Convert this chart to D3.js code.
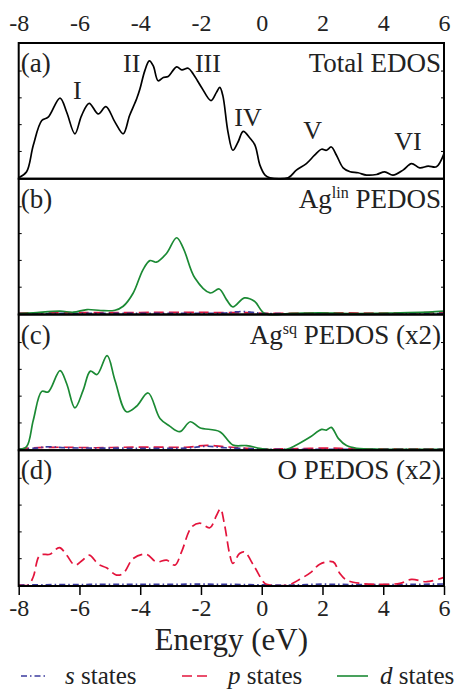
<!DOCTYPE html>
<html>
<head>
<meta charset="utf-8">
<script src="https://cdn.jsdelivr.net/npm/d3@7"></script>
<style>
  body { margin: 0; background: #fff; }
  svg text { font-family: "Liberation Serif", "Times New Roman", serif; fill: #222; }
</style>
</head>
<body>
<svg id="chart" width="456" height="690"></svg>
<script>
// energy axis
var energyTicks = [-8, -6, -4, -2, 0, 2, 4, 6];

// (a) total EDOS  [energy eV, DOS arb. units]
var totalDos = [[-8,0],[-7.74,0.6],[-7.52,3.27],[-7.24,5.77],[-7.03,6.1],[-6.64,8.03],[-6.42,6.6],[-6.15,4.43],
  [-5.93,6.27],[-5.68,7.5],[-5.38,6.43],[-5.13,7.17],[-4.83,5.6],[-4.56,4.43],[-4.35,6.27],[-4.12,7.93],[-4.01,8.93],
  [-3.85,10.77],[-3.70,11.77],[-3.57,11.27],[-3.41,9.77],[-3.24,10.1],[-3.08,10.2],[-2.80,11.17],[-2.63,10.87],
  [-2.42,11.03],[-2.25,10.43],[-1.98,9.1],[-1.67,7.77],[-1.49,8.6],[-1.38,9.1],[-1.28,8.27],[-1.11,4.6],[-0.95,2.77],
  [-0.78,3.6],[-0.61,4.67],[-0.39,4.0],[-0.22,3.27],[-0.06,1.27],[0.11,0.27],[0.27,0],[0.87,0],[1.14,0.77],[1.47,1.43],
  [1.74,2.27],[1.97,2.87],[2.13,2.77],[2.29,3.1],[2.46,2.27],[2.68,1.0],[2.91,0.6],[3.17,0.5],[3.45,0.27],[3.78,0.33],
  [4.05,0.6],[4.32,0.27],[4.65,0.77],[4.93,1.43],[5.20,1.0],[5.48,1.17],[5.75,1.1],[6.0,2.43]];

// (b) Ag lin PEDOS
var aglinS = [[-8,0],[-3,0.02],[-1.2,0.05],[-0.9,0.15],[-0.6,0.2],[-0.3,0.12],[0,0.02],[6,0]];
var aglinP = [[-8,0.05],[-6,0.08],[-4,0.1],[-2.5,0.12],[-1.5,0.1],[-0.5,0.08],[0.2,0.02],[2,0.06],[4,0.05],[6,0.1]];
var aglinD = [[-8,0],[-7.52,0.07],[-6.64,0.23],[-6.2,0.13],[-5.75,0.4],[-5.3,0.3],[-4.83,0.33],[-4.56,0.73],[-4.23,2.07],
  [-3.91,4.4],[-3.68,5.33],[-3.47,5.17],[-3.13,6.07],[-2.8,7.63],[-2.58,6.57],[-2.2,3.57],[-1.7,2.07],[-1.4,2.47],
  [-1.16,1.4],[-0.95,0.67],[-0.57,1.57],[-0.24,1.23],[0.1,0],[1.0,0.02],[1.9,0.07],[2.9,0],[4.55,0.07],[5.5,0.13],[6,0.23]];

// (c) Ag sq PEDOS (x2)
var agsqS = [[-8,0],[-7.5,0.1],[-7,0.25],[-6.5,0.15],[-5.5,0.12],[-4,0.1],[-2.5,0.12],[-1.8,0.3],[-1.2,0.15],[-0.3,0.05],[0.3,0],[6,0]];
var agsqP = [[-8,0],[-7.5,0.15],[-6.5,0.2],[-5.5,0.15],[-4.5,0.2],[-3.5,0.22],[-2.5,0.2],[-1.8,0.4],[-1.2,0.25],[-0.5,0.1],
  [0.2,0.02],[1,0.05],[2.2,0.12],[3,0.05],[6,0.05]];
var agsqD = [[-8,0],[-7.74,0.27],[-7.52,2.93],[-7.24,5.83],[-7.03,5.77],[-6.64,7.93],[-6.42,6.6],[-6.15,4.17],[-5.88,5.93],
  [-5.64,7.87],[-5.42,7.53],[-5.09,9.43],[-4.83,6.93],[-4.45,3.77],[-4.12,4.33],[-3.74,5.67],[-3.35,3.1],[-3.03,2.33],
  [-2.7,1.77],[-2.35,2.77],[-2.04,2.17],[-1.38,1.77],[-0.95,0.43],[-0.5,0.37],[-0.07,0.1],[0.15,0],[0.81,0],[1.14,0.43],
  [1.58,1.2],[1.97,2.0],[2.13,1.93],[2.29,2.2],[2.52,1.1],[2.79,0.37],[3.12,0.1],[4.0,0],[6,0]];

// (d) O PEDOS (x2)
var oxS = [[-8,0],[-6,0.05],[-4,0.06],[-2,0.08],[-1,0.06],[0,0.01],[1,0],[2,0.08],[3,0.04],[5,0.06],[6,0.1]];
var oxP = [[-8,0],[-7.68,0],[-7.52,0.83],[-7.3,3.0],[-6.97,3.1],[-6.66,3.77],[-6.42,3.0],[-6.15,2.0],[-5.9,2.5],[-5.68,3.0],
  [-5.38,2.1],[-5.11,1.73],[-4.78,1.0],[-4.56,1.17],[-4.23,2.67],[-3.8,3.1],[-3.47,2.33],[-3.13,2.5],[-2.86,2.0],
  [-2.64,3.33],[-2.31,5.83],[-2.04,6.23],[-1.71,5.77],[-1.49,7.0],[-1.36,7.67],[-1.22,6.0],[-1.06,3.17],[-0.95,2.17],
  [-0.73,3.17],[-0.57,3.33],[-0.24,1.83],[0.1,0.17],[0.27,0],[0.87,0],[1.25,0.57],[1.64,1.33],[1.91,2.1],[2.35,2.33],
  [2.57,1.17],[2.79,0.5],[3.23,0.17],[4.0,0.07],[4.55,0.17],[4.93,0.57],[5.43,0.33],[6,0.77]];

var panelNames = ["(a)", "(b)", "(c)", "(d)"];
var panelTitles = ["Total EDOS", "Ag|lin| PEDOS", "Ag|sq| PEDOS (x2)", "O PEDOS (x2)"];
var peakLabels = [["I",-6.07,99],["II",-4.28,71.7],["III",-1.77,72],["IV",-0.45,126],["V",1.68,139],["VI",4.81,150]];

var colS = "#3b3b9e", colP = "#e3143c", colD = "#1b8a34";
var dashP = "10,5", dashS = "6,3,1.5,3";

var svg = d3.select("#chart");
var mLeft = 18.7, mRight = 444, mTop = 43, mBottom = 586;
var ph = (mBottom - mTop) / 4;

var x = d3.scaleLinear().domain([-8, 6]).range([mLeft, mRight]);

var panels = [
  [{data: totalDos, color: "#000", dash: null}],
  [{data: aglinP, color: colP, dash: dashP}, {data: aglinS, color: colS, dash: dashS}, {data: aglinD, color: colD, dash: null}],
  [{data: agsqP, color: colP, dash: dashP}, {data: agsqS, color: colS, dash: dashS}, {data: agsqD, color: colD, dash: null}],
  [{data: oxS, color: colS, dash: dashS}, {data: oxP, color: colP, dash: dashP}]
];

svg.append("clipPath").attr("id", "clip")
  .append("rect").attr("x", mLeft).attr("y", mTop).attr("width", mRight - mLeft).attr("height", mBottom - mTop);

panels.forEach(function(series, i) {
  var y0 = mTop + i * ph;
  var y = d3.scaleLinear().domain([0, 13.575]).range([y0 + ph - 1, y0]);
  var g = svg.append("g");

  // small inside ticks on both sides
  var yAxisL = d3.axisRight(y).tickValues([2.7, 5.4, 8.1, 10.8]).tickSize(3).tickFormat("");
  var yAxisR = d3.axisLeft(y).tickValues([2.7, 5.4, 8.1, 10.8]).tickSize(3).tickFormat("");
  g.append("g").attr("transform", "translate(" + mLeft + ",0)").call(yAxisL).call(function(a) { a.select(".domain").remove(); });
  g.append("g").attr("transform", "translate(" + mRight + ",0)").call(yAxisR).call(function(a) { a.select(".domain").remove(); });

  var line = d3.line()
    .x(function(d) { return x(d[0]); })
    .y(function(d) { return y(d[1]); })
    .curve(d3.curveCatmullRom.alpha(0.5));

  series.forEach(function(s) {
    g.append("path")
      .attr("d", line(s.data))
      .attr("clip-path", "url(#clip)")
      .attr("fill", "none")
      .attr("stroke", s.color)
      .attr("stroke-width", 1.7)
      .attr("stroke-dasharray", s.dash);
  });

  g.append("rect")
    .attr("x", mLeft).attr("y", y0).attr("width", mRight - mLeft).attr("height", ph)
    .attr("fill", "none").attr("stroke", "#000").attr("stroke-width", 2);

  g.append("text").attr("x", mLeft + 2).attr("y", y0 + 29)
    .attr("font-size", 27).text(panelNames[i]);

  var parts = panelTitles[i].split("|");
  var t = g.append("text").attr("x", mRight - 3).attr("y", y0 + 29)
    .attr("text-anchor", "end").attr("font-size", 27);
  t.append("tspan").text(parts[0]);
  if (parts.length > 1) {
    t.append("tspan").attr("font-size", 16).attr("dy", -10).text(parts[1]);
    t.append("tspan").attr("dy", 10).text(parts[2]);
  }
});

// peak labels in (a)
svg.selectAll(".peak").data(peakLabels).join("text")
  .attr("class", "peak")
  .attr("x", function(d) { return x(d[1]); })
  .attr("y", function(d) { return d[2]; })
  .attr("text-anchor", "middle")
  .attr("font-size", 26)
  .text(function(d) { return d[0]; });

// top and bottom axes
var fmt = function(d) { return String(d); };
var topAxis = d3.axisTop(x).tickValues(energyTicks).tickSize(0).tickPadding(12).tickFormat(fmt);
var gTop = svg.append("g").attr("transform", "translate(0," + mTop + ")").call(topAxis);
gTop.attr("font-family", "Liberation Serif").attr("font-size", 24);
gTop.select(".domain").remove();
gTop.selectAll("text").attr("fill", "#222");

var botAxis = d3.axisBottom(x).tickValues(energyTicks).tickSize(9).tickPadding(4).tickFormat(fmt);
var gBot = svg.append("g").attr("transform", "translate(0," + mBottom + ")").call(botAxis);
gBot.attr("font-family", "Liberation Serif").attr("font-size", 24);
gBot.select(".domain").remove();
gBot.selectAll("line").attr("stroke-width", 1.5);
gBot.selectAll("text").attr("fill", "#222");

svg.append("text").attr("x", (mLeft + mRight) / 2).attr("y", 650)
  .attr("text-anchor", "middle").attr("font-size", 31).text("Energy (eV)");

// legend
var legend = [
  {name: "s", color: colS, dash: dashS, x1: 21, x2: 47, tx: 65},
  {name: "p", color: colP, dash: dashP, x1: 182, x2: 212, tx: 228},
  {name: "d", color: colD, dash: null, x1: 337, x2: 368, tx: 380}
];
var lg = svg.selectAll(".leg").data(legend).join("g").attr("class", "leg");
lg.append("line")
  .attr("x1", function(d) { return d.x1; }).attr("x2", function(d) { return d.x2; })
  .attr("y1", 676).attr("y2", 676)
  .attr("stroke", function(d) { return d.color; })
  .attr("stroke-width", 1.6)
  .attr("stroke-dasharray", function(d) { return d.dash; });
var lt = lg.append("text").attr("x", function(d) { return d.tx; }).attr("y", 684).attr("font-size", 25);
lt.append("tspan").attr("font-style", "italic").text(function(d) { return d.name; });
lt.append("tspan").text(" states");
</script>
</body>
</html>
